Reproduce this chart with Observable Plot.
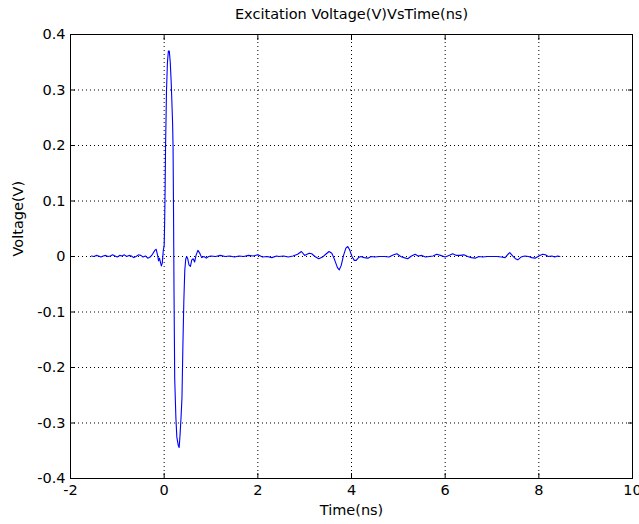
<!DOCTYPE html>
<html>
<head>
<meta charset="utf-8">
<script src="https://cdn.jsdelivr.net/npm/d3@7"></script>
<script src="https://cdn.jsdelivr.net/npm/@observablehq/plot@0.6"></script>
<style>
  html, body { margin: 0; padding: 0; background: #fff; }
  svg { font-family: "DejaVu Sans", sans-serif; }
</style>
</head>
<body>
<div id="chart"></div>
<script>
const titleText = "Excitation Voltage(V)VsTime(ns)";
const xLabel = "Time(ns)";
const yLabel = "Voltage(V)";
const xTicks = [-2, 0, 2, 4, 6, 8, 10];
const xTickLabels = ["-2", "0", "2", "4", "6", "8", "10"];
const yTicks = [-0.4, -0.3, -0.2, -0.1, 0, 0.1, 0.2, 0.3, 0.4];
const yTickLabels = ["-0.4", "-0.3", "-0.2", "-0.1", "0", "0.1", "0.2", "0.3", "0.4"];

const time = [
  -1.55, -1.50, -1.45, -1.40, -1.35, -1.30, -1.25, -1.20, -1.15, -1.10,
  -1.05, -1.00, -0.95, -0.90, -0.85, -0.80, -0.75, -0.70, -0.65, -0.60,
  -0.55, -0.50, -0.45, -0.40, -0.35, -0.30,
  -0.25, -0.20, -0.17, -0.14, -0.12, -0.10, -0.08, -0.06, -0.04, -0.02,
  0.00, 0.01, 0.02, 0.03, 0.05, 0.07, 0.09, 0.11, 0.13, 0.15,
  0.16, 0.18, 0.19, 0.20, 0.21, 0.225, 0.25, 0.27, 0.30, 0.32,
  0.34, 0.36, 0.38, 0.40, 0.42, 0.44, 0.46, 0.48, 0.50, 0.53,
  0.56, 0.59, 0.62, 0.65, 0.68, 0.72, 0.76, 0.80, 0.85, 0.90, 0.95,
  1.0, 1.1, 1.2, 1.3, 1.4, 1.5, 1.6, 1.7, 1.8, 1.9, 2.0, 2.1, 2.2, 2.3, 2.4,
  2.45, 2.55, 2.65, 2.75, 2.85, 2.93, 3.0, 3.05, 3.1, 3.15, 3.22, 3.3, 3.38,
  3.45, 3.52, 3.58, 3.64, 3.70, 3.74, 3.78, 3.83, 3.88, 3.92, 3.96, 4.01,
  4.06, 4.1, 4.15, 4.2, 4.27, 4.35, 4.42, 4.5, 4.6, 4.7, 4.8, 4.9, 4.97,
  5.05, 5.12, 5.2, 5.28, 5.36, 5.42, 5.5, 5.58, 5.66, 5.74, 5.82, 5.9,
  6.0, 6.08, 6.16, 6.24, 6.32, 6.4, 6.48, 6.56, 6.64, 6.72, 6.8, 6.9,
  7.0, 7.1, 7.2, 7.28, 7.34, 7.38, 7.44, 7.5, 7.55, 7.62, 7.7, 7.78, 7.85,
  7.92, 8.0, 8.08, 8.14, 8.2, 8.28, 8.34, 8.4, 8.45
];
const voltage = [
  0.001, 0.000, 0.002, 0.001, -0.001, 0.001, 0.002, 0.000, 0.001, 0.003,
  0.001, -0.001, 0.002, 0.001, 0.003, 0.000, 0.002, 0.001, -0.002, 0.000,
  0.003, 0.002, -0.001, 0.001, -0.003, -0.001,
  0.004, 0.011, 0.013, 0.002, -0.008, -0.003, -0.010, -0.017, -0.012, 0.010,
  0.020, 0.060, 0.120, 0.200, 0.300, 0.350, 0.370, 0.370, 0.350, 0.314,
  0.290, 0.240, 0.197, 0.080, -0.060, -0.220, -0.290, -0.325, -0.340, -0.344,
  -0.320, -0.290, -0.255, -0.160, -0.080, -0.025, -0.005, 0.000, -0.003, -0.015,
  -0.018, -0.006, -0.004, -0.010, 0.002, 0.011, 0.006, -0.002, 0.000, -0.003, 0.000,
  0.001, 0.000, 0.002, 0.000, 0.001, -0.001, 0.001, 0.000, 0.002, 0.001, 0.003, -0.001, 0.000, -0.002, 0.001,
  0.000, 0.001, -0.001, 0.001, 0.004, 0.009, 0.002, 0.004, 0.006, 0.005, 0.000, -0.004, -0.001,
  0.004, 0.009, 0.006, -0.006, -0.020, -0.024, -0.016, 0.002, 0.015, 0.018, 0.012, 0.000,
  -0.007, -0.007, -0.002, 0.000, -0.002, -0.003, 0.000, -0.001, 0.000, 0.000, -0.001, 0.003, 0.005,
  0.000, -0.002, -0.004, 0.001, 0.004, 0.001, 0.002, -0.001, 0.000, 0.001, 0.004, 0.002,
  -0.001, 0.002, 0.005, 0.002, 0.002, 0.003, 0.000, -0.002, -0.003, 0.000, -0.001, 0.000,
  0.000, 0.000, -0.001, -0.002, 0.004, 0.007, 0.001, -0.004, -0.006, -0.001, 0.001, 0.000, -0.002,
  -0.003, 0.001, 0.004, 0.003, 0.000, 0.001, -0.001, 0.001, 0.000
];

const data = time.map((t, i) => ({t, v: voltage[i]}));
const fmtX = d => xTickLabels[xTicks.indexOf(d)];
const fmtY = d => yTickLabels[yTicks.findIndex(v => Math.abs(v - d) < 1e-9)];
const fs = 14.5;

const chart = Plot.plot({
  width: 639,
  height: 524,
  marginLeft: 70,
  marginRight: 7,
  marginTop: 34,
  marginBottom: 46,
  style: {fontFamily: "DejaVu Sans, sans-serif", fontSize: fs + "px", background: "#fff", color: "#000"},
  x: {domain: [-2, 10], ticks: xTicks},
  y: {domain: [-0.4, 0.4], ticks: yTicks},
  marks: [
    Plot.gridX(xTicks, {stroke: "#000", strokeOpacity: 1, strokeWidth: 1, strokeDasharray: "1,3"}),
    Plot.gridY(yTicks, {stroke: "#000", strokeOpacity: 1, strokeWidth: 1, strokeDasharray: "1,3"}),
    Plot.line(data, {x: "t", y: "v", stroke: "#0000ff", strokeWidth: 1.1}),
    Plot.frame({stroke: "#000", strokeWidth: 1}),
    Plot.axisX(xTicks, {anchor: "bottom", tickSize: -5, tickPadding: 11, tickFormat: fmtX, label: null, fontSize: fs}),
    Plot.axisX(xTicks, {anchor: "top", tickSize: -5, tickFormat: () => "", label: null}),
    Plot.axisY(yTicks, {anchor: "left", tickSize: -5, tickPadding: 10, tickFormat: fmtY, label: null, fontSize: fs}),
    Plot.axisY(yTicks, {anchor: "right", tickSize: -5, tickFormat: () => "", label: null}),
    Plot.text([titleText], {text: d => d, frameAnchor: "top", dy: -20, lineAnchor: "middle", fontSize: fs}),
    Plot.text([xLabel], {text: d => d, frameAnchor: "bottom", dy: 32, lineAnchor: "middle", fontSize: fs}),
    Plot.text([yLabel], {text: d => d, frameAnchor: "left", dx: -52, rotate: -90, lineAnchor: "middle", fontSize: fs})
  ]
});
document.getElementById("chart").appendChild(chart);
</script>
</body>
</html>
